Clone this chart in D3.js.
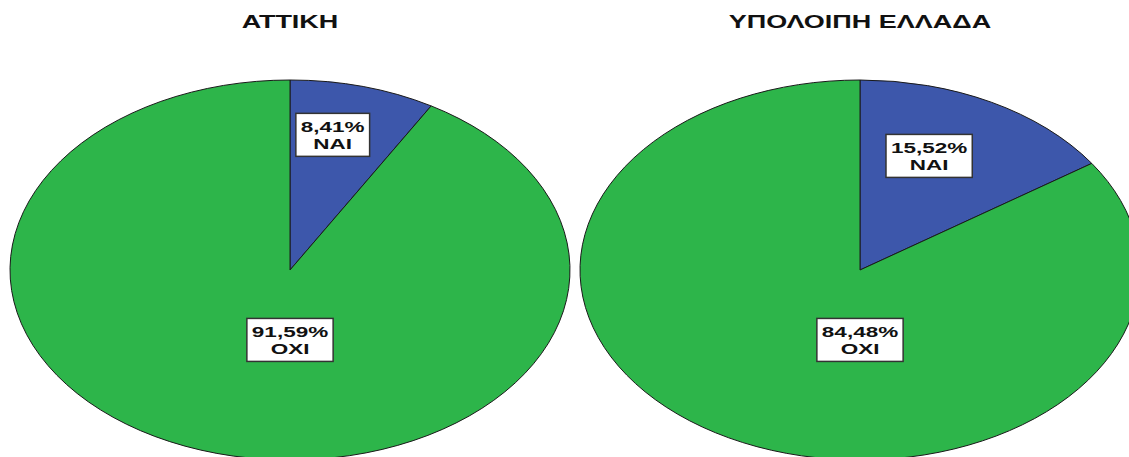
<!DOCTYPE html>
<html>
<head>
<meta charset="utf-8">
<script src="https://cdn.jsdelivr.net/npm/d3@7"></script>
<style>
  html, body { margin: 0; padding: 0; background: #fff; }
  svg { display: block; }
  text { font-family: "Liberation Sans", Arial, sans-serif; font-weight: bold; fill: #111; }
</style>
</head>
<body>
<svg id="chart" width="1129" height="457"></svg>
<script>
// ---- data ----
const regions = ["ΑΤΤΙΚΗ", "ΥΠΟΛΟΙΠΗ ΕΛΛΑΔΑ"];
const answers = ["ΝΑΙ", "ΟΧΙ"];
const naiPct = [8.41, 15.52];
const oxiPct = [91.59, 84.48];

// ---- layout ----
const cy = 270, rx = 280, ry = 190;
const colors = d3.scaleOrdinal().domain(answers).range(["#3d57ab", "#2db54a"]);
const xPos = d3.scalePoint().domain(regions).range([290, 860]);
const sxText = 1.5, sxTitle = 1.5;

const svg = d3.select("#chart");
const fmt = v => d3.format(".2f")(v).replace(".", ",") + "%";

const pie = d3.pie().sort(null).value(d => d.value);
const arc = d3.arc().innerRadius(0).outerRadius(ry);

regions.forEach((reg, i) => {
  const cx = xPos(reg);
  const data = [
    { label: answers[0], value: naiPct[i] },
    { label: answers[1], value: oxiPct[i] }
  ];
  const arcs = pie(data);

  // title
  svg.append("text")
    .attr("transform", `translate(${cx},28) scale(${sxTitle},1)`)
    .attr("text-anchor", "middle")
    .style("font-size", "18px")
    .text(reg);

  // pie (circle stretched to ellipse)
  const g = svg.append("g").attr("transform", `translate(${cx},${cy}) scale(${rx / ry},1)`);
  g.selectAll("path").data(arcs).enter().append("path")
    .attr("d", arc)
    .attr("fill", d => colors(d.data.label))
    .attr("stroke", "#1a1a1a")
    .attr("stroke-width", 1)
    .attr("vector-effect", "non-scaling-stroke");

  // labels
  arcs.forEach(d => {
    const frac = (d.endAngle - d.startAngle) / (2 * Math.PI);
    let lx, ly;
    if (d.startAngle <= Math.PI && d.endAngle >= Math.PI) {
      lx = 0; ly = 0.368 * ry;
    } else {
      const a = 0.8 * (d.startAngle + d.endAngle) / 2;
      const r = ry * (0.82 - 1.1 * frac);
      lx = r * Math.sin(a); ly = -r * Math.cos(a);
    }
    const px = cx + lx * rx / ry, py = cy + ly;
    const lg = svg.append("g").attr("transform", `translate(${px},${py})`);
    const rect = lg.append("rect");
    const t1 = lg.append("text")
      .attr("transform", `translate(0,-2.5) scale(${sxText},1)`)
      .attr("text-anchor", "middle").style("font-size", "15px")
      .text(fmt(d.data.value));
    const t2 = lg.append("text")
      .attr("transform", `translate(0,14.5) scale(${sxText},1)`)
      .attr("text-anchor", "middle").style("font-size", "15px")
      .text(d.data.label);
    const tw = Math.max(t1.node().getComputedTextLength(), t2.node().getComputedTextLength()) * sxText;
    const bw = tw + 10;
    rect.attr("x", -bw / 2).attr("y", -21.5).attr("width", bw).attr("height", 43)
      .attr("fill", "#fff").attr("stroke", "#333").attr("stroke-width", 1.5);
  });
});
</script>
</body>
</html>
